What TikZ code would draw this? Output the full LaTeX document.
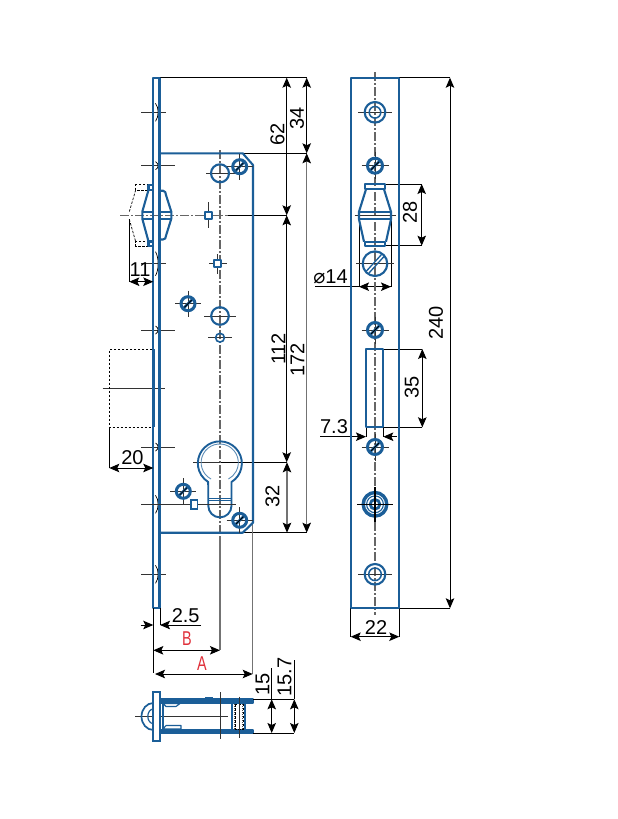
\documentclass[tikz,border=0pt]{standalone}
\usepackage{fontspec}
\setmainfont{Liberation Sans}
\newfontfamily\symfont{DejaVu Sans}
\usetikzlibrary{arrows.meta}
\definecolor{lockblue}{HTML}{1B5E98}
\definecolor{lockred}{HTML}{E0303A}
\tikzset{
  blueline/.style={draw=lockblue,line width=2.1pt,line join=round},
  bluethin/.style={draw=lockblue,line width=1.1pt,line join=round},
  dimline/.style={draw=black,line width=1pt},
  greydim/.style={draw=black!55,line width=1.3pt},
  dimboth/.style={dimline,{Stealth[length=10pt,width=8.5pt,inset=2pt]}-{Stealth[length=10pt,width=8.5pt,inset=2pt]}},
  greyboth/.style={greydim,{Stealth[length=10pt,width=8.5pt,inset=2pt,black]}-{Stealth[length=10pt,width=8.5pt,inset=2pt,black]}},
  dimarrow/.style={dimline,-{Stealth[length=10pt,width=8.5pt,inset=2pt]}},
  centreline/.style={draw=black!60,line width=1.1pt,dash pattern=on 9pt off 2pt on 2pt off 2pt},
  tick/.style={draw=black!80,line width=0.9pt},
  hiddenline/.style={draw=black,line width=0.7pt,dash pattern=on 2.5pt off 1.5pt},
  dimtext/.style={font=\fontsize{20}{20}\selectfont,inner sep=0pt},
  redtext/.style={font=\fontsize{20}{20}\selectfont,inner sep=0pt,text=lockred,xscale=0.72},
}
\newcommand{\lockscrew}[3]{%
  \draw[tick] (#1-#3-5,#2) -- (#1+#3+5,#2) (#1,#2-#3-5) -- (#1,#2+#3+5);
  \draw[draw=lockblue,line width=3pt] (#1,#2) circle ({#3-1});
  \draw[draw=lockblue,line width=2.6pt] (#1-#3*0.6,#2+#3*0.6) -- (#1+#3*0.6,#2-#3*0.6);
  \draw[black,line width=0.8pt] (#1-#3*0.45,#2+#3*0.45) -- (#1+#3*0.45,#2-#3*0.45);
}
\newcommand{\platemark}[3]{%
  \draw[tick] (141,#1) -- (#2,#1);
  \draw[black,line width=0.7pt] (155.5,#1-#3) .. controls (159,#1-#3*0.5) and (159,#1+#3*0.5) .. (155.5,#1+#3);
}
\begin{document}
\begin{tikzpicture}[x=1pt,y=-1pt]
\useasboundingbox (0,0) rectangle (618,819);
\fill[white] (0,0) rectangle (618,819);

% ---------- extension lines, left view
\draw[dimline] (159,77.7) -- (307,77.7);
\draw[dimline] (243,153.3) -- (307,153.3);
\draw[dimline] (228,215.3) -- (287,215.3);
\draw[centreline] (120,215.3) -- (228,215.3);
\draw[dimline] (220,462.3) -- (287,462.3);
\draw[dimline] (243,532.7) -- (307,532.7);

% ---------- dimensions, left view
\draw[dimboth] (286.7,77.7) -- (286.7,215.3);
\draw[dimboth] (306.7,77.7) -- (306.7,153.3);
\draw[dimboth] (286.7,215.3) -- (286.7,462.3);
\draw[greyboth] (306.7,153.3) -- (306.7,532.7);
\draw[greyboth] (287,462.3) -- (287,532.7);
\node[dimtext,rotate=90] (d62) at (277.5,134) {62};
\node[dimtext,rotate=90] (d34) at (297,118) {34};
\node[dimtext,rotate=90] (d112) at (278.5,349) {112};
\node[dimtext,rotate=90] (d172) at (297.5,360) {172};
\node[dimtext,rotate=90] (d32) at (272.5,496) {32};

% ---------- centre lines, left view
\draw[centreline] (220,150) -- (220,536);
\draw[greydim] (220,536) -- (220,650);
\draw[greydim] (252.7,522) -- (252.7,674);

% ---------- body
\draw[blueline] (159.5,153.3) -- (242.7,153.3) -- (253,165) -- (253,522.7) -- (242.7,532.7) -- (159.5,532.7);

% ---------- plate marks
\platemark{112.3}{166}{9}
\platemark{165.7}{175}{4}
\platemark{263.7}{166}{12}
\platemark{330}{175}{4}
\platemark{447}{175}{4}
\platemark{504.3}{166}{9}
\platemark{574.3}{166}{9}
\draw[tick] (102.7,388.3) -- (165,388.3);

% ---------- face plate
\draw[blueline] (153.3,77.7) rectangle (159.5,608);
\draw[draw=lockblue,line width=2.8pt] (153.3,349.3) -- (153.3,427.3);

% ---------- holes, left view
\draw[tick] (206,173.3) -- (236,173.3);
\draw[blueline] (220,173.3) circle (9);
\lockscrew{239.7}{166.7}{8}
\draw[tick] (208.7,202) -- (208.7,228);
\draw[blueline,fill=white] (205.2,212) rectangle (212.2,219);
\draw[tick] (209,263.7) -- (227,263.7) (217.3,254) -- (217.3,274);
\draw[blueline,fill=white] (213.8,260.2) rectangle (220.8,267.2);
\lockscrew{188}{303.7}{8}
\draw[tick] (204,316) -- (236,316);
\draw[blueline] (220,316) circle (8.8);
\draw[tick] (208,337.7) -- (232,337.7);
\draw[draw=lockblue,line width=1.6pt] (220,337.7) circle (4.4);

% ---------- latch, left view
\draw[hiddenline] (152,349.3) -- (109.3,349.3) -- (109.3,427.3) -- (152,427.3);
\draw[dimline] (109.3,427.3) -- (109.3,468);
\draw[dimboth] (109.3,468) -- (153.3,468);
\node[dimtext] (d20) at (132.5,457.5) {20};

% ---------- hook, left view
\draw[hiddenline] (149,184.8) -- (135.7,184.8) -- (135.7,190) -- (149,190);
\draw[hiddenline] (135.7,190) -- (129.3,211.7) (129.3,219.3) -- (135.7,241.7);
\draw[hiddenline] (149,241.7) -- (135.7,241.7) -- (135.7,246) -- (149,246);
\draw[blueline] (148.5,185) rectangle (153.3,190);
\draw[blueline] (148.5,241.5) rectangle (153.3,246);
\draw[blueline] (148.5,190) -- (142.3,211.7) -- (142.3,218.7) -- (148.5,241.5);
\draw[blueline] (142.3,211.7) -- (153.3,211.7) (142.3,218.7) -- (153.3,218.7);
\draw[blueline] (159.5,190.7) -- (163,190.7) .. controls (165.5,190.7) and (165.5,193) .. (166,195) -- (171.3,211.7) -- (171.3,218.7) -- (166,235.7) .. controls (165.5,238) and (165.5,239.5) .. (163,239.5) -- (159.5,239.5);
\draw[blueline] (159.5,211.7) -- (171.3,211.7) (159.5,218.7) -- (171.3,218.7);
\draw[dimline] (129.3,219.3) -- (129.3,282);
\draw[dimboth] (129.3,281.7) -- (153.3,281.7);
\node[dimtext] (d11) at (140,270) {11};

% ---------- cylinder cut-out
\draw[tick] (193,462.3) -- (220,462.3);
\draw[blueline,line width=1.9pt] (208.3,505.7) arc[start angle=180,end angle=0,x radius=11.6,y radius=11.7]
  -- (231.5,482) arc[start angle=58,end angle=-238,radius=22] -- cycle;
\draw[draw=lockblue!70,line width=0.9pt] (211,479) arc[start angle=118,end angle=422,radius=18.6];
\draw[bluethin] (208.3,498.2) -- (231.5,498.2) (208.3,500.6) -- (231.5,500.6);
\draw[tick] (147,504.3) -- (236,504.3);
\lockscrew{183.3}{491.3}{8}
\draw[draw=lockblue,line width=1.6pt,fill=white] (191,500.2) rectangle (197.6,509.2);
\lockscrew{239.7}{520.3}{8}

% ---------- small dimensions below plate
\draw[dimline] (153.3,608) -- (153.3,673);
\draw[dimline] (160,608) -- (160,625);
\draw[dimarrow] (140.7,625) -- (153.3,625);
\draw[dimarrow] (201,625) -- (160,625);
\node[dimtext] (d25) at (185.7,615.5) {2.5};
\draw[dimboth] (153.3,650.3) -- (220,650.3);
\node[redtext] (labB) at (187,639) {B};
\draw[dimboth] (155,674) -- (252.7,674);
\node[redtext] (labA) at (202,664) {A};

% ---------- end view
\draw[tick] (135,716.3) -- (228,716.3);
\draw[draw=lockblue,line width=1.7pt] (153.3,703) arc[start angle=270,end angle=90,x radius=11.8,y radius=13.5];
\draw[draw=lockblue,line width=1.2pt] (153.3,709) arc[start angle=270,end angle=90,x radius=5.5,y radius=7.3];
\draw[draw=lockblue,line width=2.1pt,fill=white] (153.3,691.7) rectangle (160,741);
\draw[blueline,fill=lockblue] (160,699.2) rectangle (253.3,702.6);
\draw[blueline,fill=lockblue] (160,729.6) rectangle (253.3,733);
\draw[blueline] (205,698) -- (213,698);
\draw[blueline] (162.7,703) -- (162.7,729.6);
\draw[bluethin] (163,703.5) -- (180,703.5) -- (176,706.5) -- (166,706.5) -- cycle;
\draw[bluethin] (163,729) -- (181,729) -- (181,725.5) -- (166,725.5) -- cycle;
\draw[blueline] (231.7,703) -- (231.7,729.6) (245,703) -- (245,729.6);
\draw[hiddenline] (235,704) rectangle (243,729);
\draw[black!70,line width=0.7pt,dash pattern=on 1pt off 1pt] (234,704) -- (234,729) (242,704) -- (242,729);
\draw[tick] (220,692) -- (220,739.3);
\draw[tick] (239.3,696.7) -- (239.3,738);
\draw[dimline] (253,699.3) -- (294.3,699.3);
\draw[dimline] (253,733) -- (294.3,733);
\draw[dimline] (271.7,668) -- (271.7,699.3);
\draw[dimline] (294.3,660) -- (294.3,699.3);
\draw[dimboth] (271.7,699.3) -- (271.7,733);
\draw[dimboth] (294.3,699.3) -- (294.3,733);
\node[dimtext,rotate=90] (d15) at (262.5,684) {15};
\node[dimtext,rotate=90] (d157) at (284.5,677) {15.7};

% ---------- front view: dimensions
\draw[dimline] (399.3,77.7) -- (450,77.7);
\draw[dimline] (399.3,608.3) -- (450,608.3);
\draw[dimboth] (450,77.7) -- (450,608.3);
\node[dimtext,rotate=90] (d240) at (436,323) {240};
\draw[dimline] (385,184) -- (421.7,184);
\draw[dimline] (385,245.7) -- (421.7,245.7);
\draw[dimboth] (421.7,184) -- (421.7,245.7);
\node[dimtext,rotate=90] (d28) at (410,212) {28};
\draw[dimline] (359,219.3) -- (359,286.7);
\draw[dimline] (391,219.3) -- (391,286.7);
\draw[dimline] (315,286.7) -- (391,286.7);
\draw[dimboth] (359,286.7) -- (391,286.7);
\node[dimtext] (dphi) at (330.5,277) {{\symfont\fontsize{20}{20}\selectfont ⌀}14};
\draw[dimline] (383.3,349) -- (422.3,349);
\draw[dimline] (383.3,427.3) -- (422.3,427.3);
\draw[dimboth] (422.3,349) -- (422.3,427.3);
\node[dimtext,rotate=90] (d35) at (411.7,387.7) {35};
\draw[dimline] (366,427.3) -- (366,436.7);
\draw[dimline] (383.3,427.3) -- (383.3,436.7);
\draw[dimarrow] (320,436.7) -- (366,436.7);
\draw[dimarrow] (396.7,436.7) -- (383.3,436.7);
\node[dimtext] (d73) at (334,427) {7.3};
\draw[dimline] (350.7,608.3) -- (350.7,636.7);
\draw[dimline] (399.3,608.3) -- (399.3,636.7);
\draw[dimboth] (350.7,636.7) -- (399.3,636.7);
\node[dimtext] (d22) at (376,628) {22};

% ---------- front view: plate and details
\draw[centreline] (375,72) -- (375,615);
\draw[blueline] (350.7,77.7) rectangle (399.3,608.3);

\draw[tick] (358,112.3) -- (392,112.3);
\draw[blueline] (375,112.3) circle (10.3);
\draw[blueline,line width=1.5pt] (375,112.3) circle (5.8);

\lockscrew{375}{165.7}{8.5}

\draw[tick] (354.5,215.3) -- (395.5,215.3);
\draw[blueline] (365,184.3) rectangle (385,189.3);
\draw[blueline] (366,189.3) -- (359,211.7) -- (359,219.3) -- (364,241.7);
\draw[blueline] (384,189.3) -- (391,211.7) -- (391,219.3) -- (386,241.7);
\draw[blueline] (359,211.7) -- (391,211.7) (359,219.3) -- (391,219.3);
\draw[blueline] (365,241.7) rectangle (385,246);

\draw[tick] (356,263.7) -- (394,263.7);
\draw[blueline] (375,263.7) circle (12.3);
\draw[draw=lockblue,line width=1.3pt] (366.5,271) -- (381.5,254.5) (369,273) -- (384,256.5);

\lockscrew{375}{330}{8.5}

\draw[blueline,line width=2.3pt] (366,349) rectangle (383.3,427.3);

\lockscrew{375}{447}{8.5}

\draw[draw=lockblue,line width=3.4pt] (375,504.3) circle (11.8);
\draw[draw=lockblue,line width=1.1pt] (375,504.3) circle (8.4);
\draw[draw=lockblue,line width=2.8pt] (375,504.3) circle (4.8);
\draw[black,line width=1.1pt] (357,504.3) -- (393,504.3) (375,487) -- (375,522);

\draw[tick] (358,574.3) -- (392,574.3);
\draw[blueline] (375,574.3) circle (10.3);
\draw[blueline,line width=1.5pt] (375,574.3) circle (6.3);
\end{tikzpicture}
\end{document}
